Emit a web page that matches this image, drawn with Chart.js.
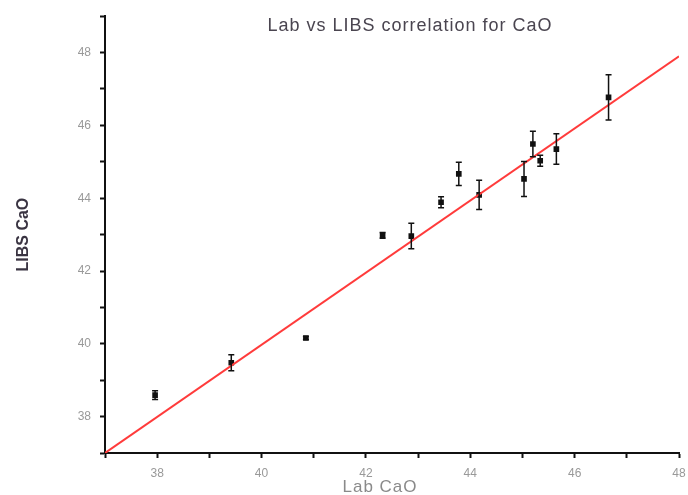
<!DOCTYPE html>
<html>
<head>
<meta charset="utf-8">
<script src="https://cdn.jsdelivr.net/npm/chart.js@4.4.0/dist/chart.umd.min.js"></script>
<style>
  html, body { margin: 0; padding: 0; background: #fff; }
  #wrap { width: 688px; height: 495px; }
</style>
</head>
<body>
<div id="wrap"><canvas id="libsChart"></canvas></div>
<script>
// Lab CaO (x), LIBS CaO (y) and the LIBS std deviation for each sample
const labCaO  = [37.96, 39.42, 40.85, 42.32, 42.87, 43.44, 43.78, 44.17, 45.03, 45.20, 45.34, 45.65, 46.65];
const libsCaO = [38.59, 39.48, 40.16, 42.98, 42.96, 43.89, 44.67, 44.09, 44.53, 45.49, 45.03, 45.35, 46.77];
const libsErr = [0.12, 0.22, 0.04, 0.08, 0.35, 0.15, 0.32, 0.40, 0.48, 0.35, 0.15, 0.42, 0.62];

// fitted line
const fitX = [37, 48];
const fitY = [37.0, 47.9];

const xTicks = [38, 40, 42, 44, 46, 48];
const yTicks = [38, 40, 42, 44, 46, 48];

const points = labCaO.map((x, i) => ({ x: x, y: libsCaO[i], err: libsErr[i] }));
const fitLine = fitX.map((x, i) => ({ x: x, y: fitY[i] }));

// error bars drawn from the scales
const errorBars = {
    id: 'errorBars',
    afterDatasetsDraw(chart) {
        const ctx = chart.ctx;
        const xs = chart.scales.x, ys = chart.scales.y;
        ctx.save();
        ctx.strokeStyle = '#111';
        ctx.lineWidth = 1.5;
        points.forEach(p => {
            const px = xs.getPixelForValue(p.x);
            const top = ys.getPixelForValue(p.y + p.err);
            const bot = ys.getPixelForValue(p.y - p.err);
            ctx.beginPath();
            ctx.moveTo(px, top); ctx.lineTo(px, bot);
            ctx.moveTo(px - 3, top); ctx.lineTo(px + 3, top);
            ctx.moveTo(px - 3, bot); ctx.lineTo(px + 3, bot);
            ctx.stroke();
        });
        ctx.restore();
    }
};

// title and x axis label
const labels = {
    id: 'labels',
    afterDraw(chart) {
        const ctx = chart.ctx;
        ctx.save();
        ctx.textAlign = 'center';
        ctx.textBaseline = 'middle';
        ctx.letterSpacing = '1px';
        ctx.fillStyle = '#4a4550';
        ctx.font = "18px 'Liberation Sans', Arial, sans-serif";
        ctx.fillText('Lab vs LIBS correlation for CaO', 410, 26);
        ctx.fillStyle = '#8a8a8a';
        ctx.font = "17px 'Liberation Sans', Arial, sans-serif";
        ctx.fillText('Lab CaO', 380, 487);
        ctx.restore();
    }
};

new Chart(document.getElementById('libsChart'), {
    type: 'scatter',
    data: {
        datasets: [
            {
                type: 'line',
                data: fitLine,
                borderColor: '#ff3b3b',
                borderWidth: 2,
                pointRadius: 0,
                fill: false
            },
            {
                data: points,
                pointStyle: 'rect',
                pointRadius: 4,
                backgroundColor: '#111',
                borderColor: '#111',
                borderWidth: 0
            }
        ]
    },
    options: {
        responsive: true,
        maintainAspectRatio: false,
        animation: false,
        layout: { padding: { left: 0, right: 0, top: 15, bottom: 0 } },
        plugins: {
            legend: { display: false },
            tooltip: { enabled: false }
        },
        scales: {
            x: {
                type: 'linear',
                min: 37,
                max: 48,
                afterFit(scale) {
                    scale.height = 42;
                    scale.paddingRight = 9;
                },
                afterBuildTicks(scale) {
                    scale.ticks = [];
                    for (let v = 37; v <= 48; v++) scale.ticks.push({ value: v });
                },
                border: { color: '#111', width: 2 },
                grid: { drawOnChartArea: false, tickLength: 5, tickColor: '#111', tickWidth: 2 },
                ticks: {
                    color: '#999',
                    padding: 8,
                    font: { size: 12, family: "'Liberation Sans', Arial, sans-serif" },
                    callback: v => xTicks.includes(v) ? v : ''
                }
            },
            y: {
                type: 'linear',
                min: 37,
                max: 49,
                afterFit(scale) { scale.width = 105; },
                afterBuildTicks(scale) {
                    scale.ticks = [];
                    for (let v = 37; v <= 49; v++) scale.ticks.push({ value: v });
                },
                border: { color: '#111', width: 2 },
                grid: { drawOnChartArea: false, tickLength: 5, tickColor: '#111', tickWidth: 2 },
                ticks: {
                    color: '#999',
                    padding: 9,
                    font: { size: 12, family: "'Liberation Sans', Arial, sans-serif" },
                    callback: v => yTicks.includes(v) ? v : ''
                },
                title: {
                    display: true,
                    text: 'LIBS CaO',
                    color: '#3a3442',
                    padding: { top: 14, bottom: 0 },
                    font: { size: 16, weight: 'bold', family: "'Liberation Sans', Arial, sans-serif" }
                }
            }
        }
    },
    plugins: [errorBars, labels]
});
</script>
</body>
</html>
